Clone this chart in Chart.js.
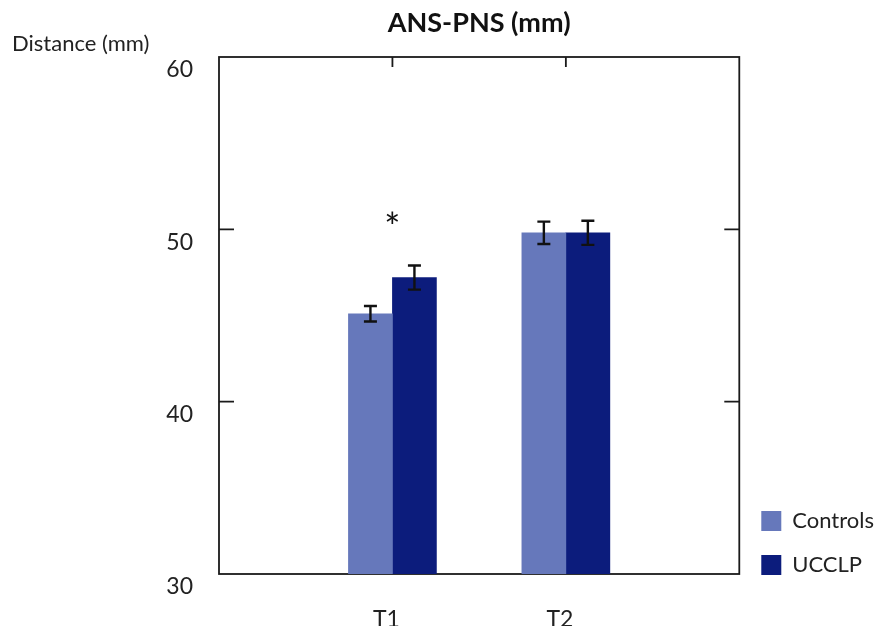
<!DOCTYPE html>
<html>
<head>
<meta charset="utf-8">
<script src="https://cdn.jsdelivr.net/npm/chart.js@4.4.1/dist/chart.umd.min.js"></script>
<style>
  html, body { margin: 0; padding: 0; background: #ffffff; }
  #wrap { width: 884px; height: 626px; position: relative; }
</style>
</head>
<body>
<div id="wrap"><canvas id="chart" width="884" height="626"></canvas></div>
<script>
// ANS-PNS distance at two time points, mean ± error
const categories = ['T1', 'T2'];
const seriesNames = ['Controls', 'UCCLP'];
const controlsMean = [45.1, 49.8];
const controlsErr = [0.45, 0.65];
const ucclpMean = [47.2, 49.8];
const ucclpErr = [0.7, 0.7];
const yTicks = [30, 40, 50, 60];
const significant = [true, false];   // asterisk over the T1 pair

const FONT = 'Lato, "Open Sans", "Noto Sans", sans-serif';
const COLORS = ['#6678bb', '#0c1c7c'];
const INK = '#1a1a1a';

// Empty slots at both ends so the two groups sit at 1/3 and 2/3 of the frame
const labels = ['', ...categories, ''];
const pad = arr => [null, ...arr, null];

// Error bars and significance marker, placed with the chart scales
const errorBars = {
  id: 'errorBars',
  afterDatasetsDraw(chart) {
    const ctx = chart.ctx;
    const y = chart.scales.y;
    const errs = [pad(controlsErr), pad(ucclpErr)];
    ctx.save();
    ctx.strokeStyle = '#111111';
    ctx.lineWidth = 2.4;
    chart.data.datasets.forEach((ds, di) => {
      const meta = chart.getDatasetMeta(di);
      meta.data.forEach((bar, i) => {
        const v = ds.data[i];
        const e = errs[di][i];
        if (v == null || e == null) return;
        const x = bar.x;
        const yTop = y.getPixelForValue(v + e);
        const yBot = y.getPixelForValue(v - e);
        ctx.beginPath();
        ctx.moveTo(x, yTop); ctx.lineTo(x, yBot);
        ctx.moveTo(x - 6.5, yTop); ctx.lineTo(x + 6.5, yTop);
        ctx.moveTo(x - 6.5, yBot); ctx.lineTo(x + 6.5, yBot);
        ctx.stroke();
      });
    });
    const xs = chart.scales.x;
    significant.forEach((sig, ci) => {
      if (!sig) return;
      const top = Math.max(controlsMean[ci] + controlsErr[ci], ucclpMean[ci] + ucclpErr[ci]);
      const px = xs.getPixelForValue(ci + 1);
      const py = y.getPixelForValue(top) - 45;
      ctx.fillStyle = '#111111';
      ctx.font = '38px ' + FONT;
      ctx.textAlign = 'center';
      ctx.textBaseline = 'middle';
      ctx.fillText('*', px, py + 8);
    });
    ctx.restore();
  }
};

// Box frame with short inward tick marks, drawn under the bars
const frame = {
  id: 'frame',
  afterLayout(chart) {
    // keep the legend block level with the lower part of the frame
    if (chart.legend) chart.legend.bottom -= 28;
  },
  beforeDatasetsDraw(chart) {
    const { ctx, chartArea: a } = chart;
    const xs = chart.scales.x, y = chart.scales.y;
    ctx.save();
    ctx.strokeStyle = INK;
    ctx.lineWidth = 1.8;
    ctx.strokeRect(a.left, a.top, a.right - a.left, a.bottom - a.top);
    ctx.beginPath();
    categories.forEach((c, i) => {
      const px = xs.getPixelForValue(i + 1);
      ctx.moveTo(px, a.top); ctx.lineTo(px, a.top + 10);
    });
    yTicks.slice(1, -1).forEach(v => {
      const py = y.getPixelForValue(v);
      ctx.moveTo(a.left, py); ctx.lineTo(a.left + 15, py);
      ctx.moveTo(a.right, py); ctx.lineTo(a.right - 15, py);
    });
    ctx.stroke();
    ctx.restore();
  }
};

new Chart(document.getElementById('chart'), {
  type: 'bar',
  data: {
    labels: labels,
    datasets: [
      { label: seriesNames[0], data: pad(controlsMean), backgroundColor: COLORS[0], barThickness: 44 },
      { label: seriesNames[1], data: pad(ucclpMean), backgroundColor: COLORS[1], barThickness: 44 }
    ]
  },
  options: {
    responsive: false,
    animation: false,
    layout: { padding: { left: 12, right: 0, top: 0, bottom: 0 } },
    plugins: {
      title: {
        display: true,
        text: 'ANS-PNS (mm)',
        fullSize: false,
        color: '#111111',
        font: { family: FONT, size: 27, weight: 'bold', lineHeight: 0.8 },
        padding: { top: 12, bottom: 0 }
      },
      subtitle: {
        display: true,
        text: 'Distance (mm)',
        align: 'start',
        color: '#222222',
        font: { family: FONT, size: 22, lineHeight: 0.9 },
        padding: { top: 0, bottom: 3.6 }
      },
      legend: {
        position: 'right',
        align: 'end',
        maxWidth: 147,
        labels: {
          boxWidth: 20,
          boxHeight: 20,
          padding: 22,
          color: '#222222',
          font: { family: FONT, size: 22 }
        }
      },
      tooltip: { enabled: false }
    },
    scales: {
      x: {
        offset: false,
        afterFit: axis => { axis.height = 52; },
        grid: { display: false },
        border: { display: false },
        ticks: { color: '#222222', font: { family: FONT, size: 23 }, padding: 24, labelOffset: -6, maxRotation: 0, autoSkip: false }
      },
      y: {
        min: 30, max: 60,
        afterBuildTicks: axis => { axis.ticks = yTicks.map(v => ({ value: v })); },
        afterFit: axis => { axis.width = 207; },
        grid: { display: false },
        border: { display: false },
        ticks: { color: '#222222', font: { family: FONT, size: 23 }, padding: 18, labelOffset: 13 }
      }
    }
  },
  plugins: [frame, errorBars]
});
</script>
</body>
</html>
